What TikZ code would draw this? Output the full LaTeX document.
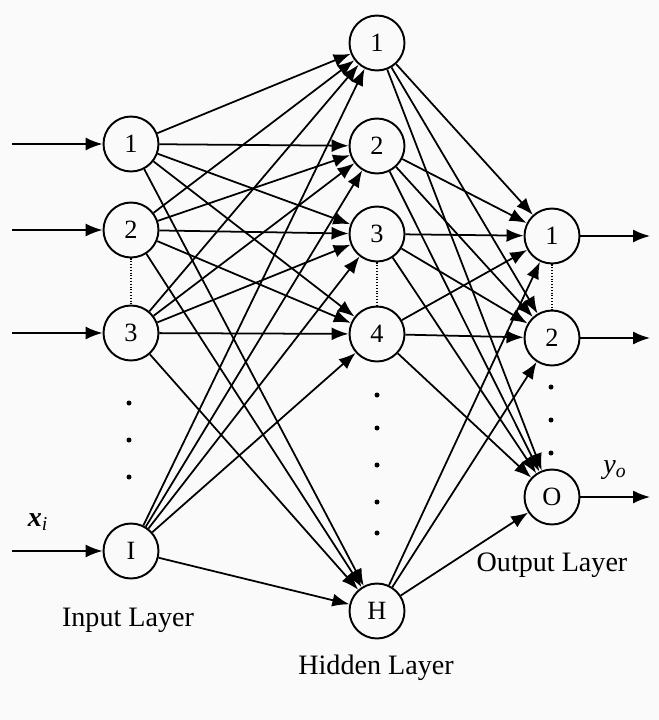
\documentclass[tikz,border=0pt]{standalone}
\usepackage{fontspec}
\setmainfont{Liberation Serif}
\usepackage{tikz}
\usetikzlibrary{arrows.meta, positioning}

\tikzset{
    neuron/.style={draw, circle, line width=1.1pt, minimum size=1.1cm, inner sep=0pt, font=\fontsize{15}{15}\selectfont},
    link/.style={line width=1pt, -{Latex[length=3.4mm, width=2.6mm]}},
    vdots/.style={densely dotted, line width=0.6pt},
    layername/.style={font=\fontsize{16}{16}\selectfont}
}

\begin{document}
\begin{tikzpicture}[x=0.02cm, y=-0.02cm]
        \fill[gray!4] (0,0) rectangle (659,720);
        \useasboundingbox (0,0) rectangle (659,720);

        % Input layer
        \foreach \n/\y in {1/144, 2/230, 3/333, I/551} {
                \node[neuron] (i\n) at (131,\y) {\n};
                \coordinate (x\n) at (12,\y);
                \draw[link] (x\n) -- (i\n);
            }

        % Hidden layer
        \foreach \n/\y in {1/43, 2/146, 3/234, 4/334, H/611}
                \node[neuron] (h\n) at (377,\y) {\n};

        % Output layer
        \foreach \n/\y in {1/236, 2/338, O/497} {
                \node[neuron] (o\n) at (552,\y) {\n};
                \coordinate (y\n) at (650,\y);
                \draw[link] (o\n) -- (y\n);
            }

        % Connections
        \foreach \a in {1,2,3,I}
            \foreach \b in {1,2,3,4,H}
                \draw[link] (i\a) -- (h\b);
        \foreach \a in {1,2,3,4,H}
            \foreach \b in {1,2,O}
                \draw[link] (h\a) -- (o\b);

        % Dotted links and dots
        \draw[vdots] (i2) -- (i3);
        \draw[vdots] (h3) -- (h4);
        \draw[vdots] (o1) -- (o2);
        \foreach \y in {403, 440, 477}
            \fill (129,\y) circle (2.5);
        \foreach \y in {395, 428, 465, 502, 533}
            \fill (377,\y) circle (2.5);
        \foreach \y in {387, 420, 453}
            \fill (551,\y) circle (2.5);

        % Labels
        \node[layername] (xlab) at (38,522) {\textbf{\textit{x}}\textsubscript{\textit{i}}};
        \node[layername] (ylab) at (615,470) {\textit{y}\textsubscript{\textit{o}}};
        \node[layername] (inlab) at (128,620) {Input Layer};
        \node[layername] (hidlab) at (376,668) {Hidden Layer};
        \node[layername] (outlab) at (552,565) {Output Layer};
    \end{tikzpicture}
\end{document}
